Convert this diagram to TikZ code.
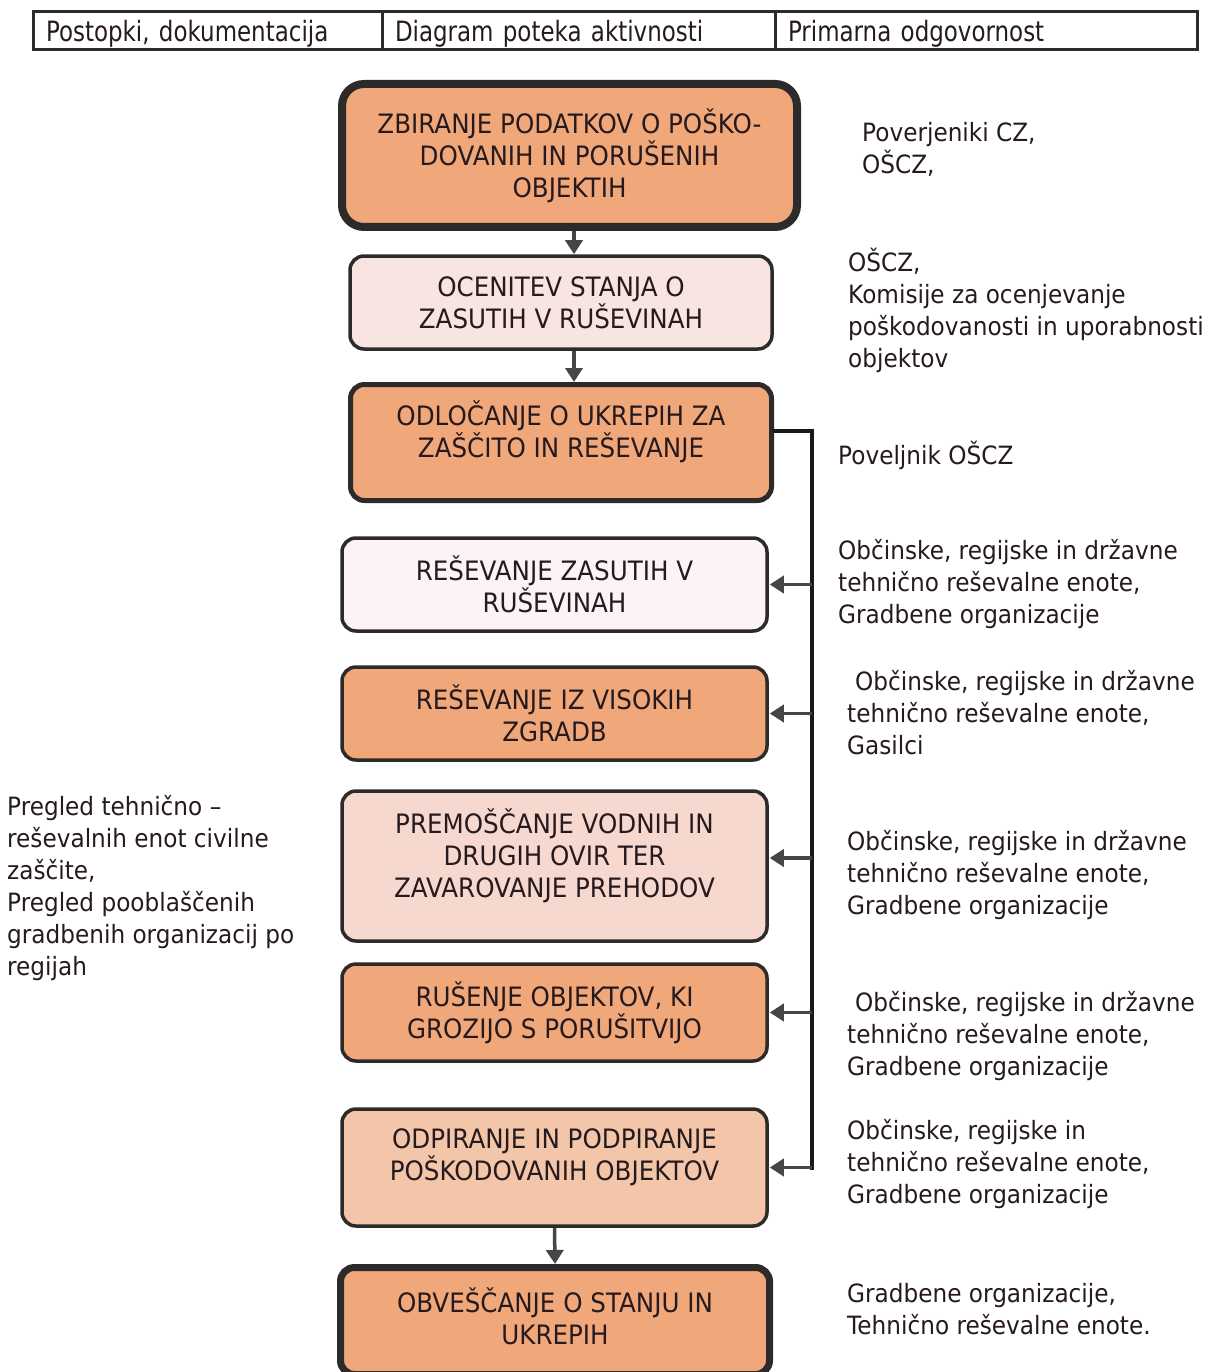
\documentclass[tikz,border=0pt]{standalone}
\usepackage{fontspec}
\setmainfont{DejaVu Sans}[FakeStretch=0.92]
\newfontfamily\hdrfont{DejaVu Sans}[FakeStretch=0.82]
\usetikzlibrary{arrows.meta,calc}
\definecolor{txt}{RGB}{38,26,30}
\definecolor{bord}{RGB}{45,42,42}
\definecolor{orng}{RGB}{240,168,122}
\definecolor{pinkA}{RGB}{248,228,224}
\definecolor{pinkB}{RGB}{251,243,245}
\definecolor{pinkC}{RGB}{246,216,206}
\definecolor{peach}{RGB}{243,198,170}
\definecolor{arrg}{RGB}{70,70,70}
\begin{document}
\begin{tikzpicture}[x=1pt,y=-1pt,
  box/.style={draw=bord, rounded corners=14pt, line width=3.5pt, align=center, text=txt,
    font=\fontsize{26.7}{32}\selectfont, inner sep=0pt},
  btxt/.style={align=center, text=txt, font=\fontsize{26.7}{32}\selectfont, inner sep=0pt},
  rtxt/.style={align=left, anchor=west, text=txt, font=\fontsize{25.2}{32}\selectfont, inner sep=0pt},
  hcell/.style={draw=bord, line width=3pt, minimum height=38pt, inner xsep=13pt, inner ysep=0pt,
    text height=28pt, text depth=6pt,
    align=left, text=txt, font=\hdrfont\fontsize{28}{30}\selectfont},
  arr/.style={draw=arrg, line width=3.5pt, -{Triangle[length=14pt,width=17pt]}},
  busline/.style={draw=black!90, line width=4pt, line cap=rect}]
\useasboundingbox (0,0) rectangle (1208,1372);
\fill[white] (0,0) rectangle (1208,1372);

% header
\node[hcell, text width=323pt] (h1) at (207.5,31) {Postopki, dokumentacija};
\node[hcell, text width=367pt] (h2) at (578.5,31) {Diagram poteka aktivnosti};
\node[hcell, text width=396pt] (h3) at (986,31) {Primarna odgovornost};

% boxes
\node[box, fill=orng, line width=8pt, rounded corners=22pt, minimum width=455pt, minimum height=143pt] (b1) at (569.5,155.5)
  {ZBIRANJE PODATKOV O POŠKO-\\DOVANIH IN PORUŠENIH\\OBJEKTIH};
\node[box, fill=pinkA, minimum width=422pt, minimum height=93pt] (b2) at (561,302.5)
  {OCENITEV STANJA O\\ZASUTIH V RUŠEVINAH};
\node[box, fill=orng, line width=5pt, minimum width=421pt, minimum height=116pt] (b3) at (561,442.5) {};
\node[btxt] (t3) at (561,432) {ODLOČANJE O UKREPIH ZA\\ZAŠČITO IN REŠEVANJE};
\node[box, fill=pinkB, minimum width=425pt, minimum height=93pt] (b4) at (554.5,584.5)
  {REŠEVANJE ZASUTIH V\\RUŠEVINAH};
\node[box, fill=orng, minimum width=425pt, minimum height=93pt] (b5) at (554.5,713.5)
  {REŠEVANJE IZ VISOKIH\\ZGRADB};
\node[box, fill=pinkC, minimum width=425pt, minimum height=150pt] (b6) at (554.5,866) {};
\node[btxt] (t6) at (554.5,856) {PREMOŠČANJE VODNIH IN\\DRUGIH OVIR TER\\ZAVAROVANJE PREHODOV};
\node[box, fill=orng, minimum width=425pt, minimum height=97pt] (b7) at (554.5,1012.5)
  {RUŠENJE OBJEKTOV, KI\\GROZIJO S PORUŠITVIJO};
\node[box, fill=peach, minimum width=425pt, minimum height=117pt] (b8) at (554.5,1167.5) {};
\node[btxt] (t8) at (554.5,1157) {ODPIRANJE IN PODPIRANJE\\POŠKODOVANIH OBJEKTOV};
\node[box, fill=orng, line width=7pt, minimum width=429pt, minimum height=107pt] (b9) at (555,1321) {};
\node[btxt] (t9) at (555,1316) {OBVEŠČANJE O STANJU IN\\UKREPIH};

% connectors
\coordinate (ax1) at (574,0);
\draw[arr] (b1.south -| ax1) -- (b2.north -| ax1);
\draw[arr] (b2.south -| ax1) -- (b3.north -| ax1);
\draw[arr] (b8.south) -- (b9.north);
\coordinate (busx) at (812,0);
\draw[busline] ([yshift=12pt]b3.east) -| (busx |- b8.east);
\draw[arr, shorten >=1pt] (busx |- b4.east) -- (b4.east);
\draw[arr, shorten >=1pt] (busx |- b5.east) -- (b5.east);
\draw[arr, shorten >=1pt] ([yshift=8pt]busx |- b6.east) -- ([yshift=8pt]b6.east);
\draw[arr, shorten >=1pt] (busx |- b7.east) -- (b7.east);
\draw[arr, shorten >=1pt] (busx |- b8.east) -- (b8.east);

% right column
\node[rtxt] (r1) at (862,149) {Poverjeniki CZ,\\OŠCZ,};
\node[rtxt] (r2) at (848,310) {OŠCZ,\\Komisije za ocenjevanje\\poškodovanosti in uporabnosti\\objektov};
\node[rtxt] (r3) at (838,455) {Poveljnik OŠCZ};
\node[rtxt] (r4) at (838,584) {Občinske, regijske in državne\\tehnično reševalne enote,\\Gradbene organizacije};
\node[rtxt] (r5) at (847,713) {\hspace*{8pt}Občinske, regijske in državne\\tehnično reševalne enote,\\Gasilci};
\node[rtxt] (r6) at (847,875) {Občinske, regijske in državne\\tehnično reševalne enote,\\Gradbene organizacije};
\node[rtxt] (r7) at (847,1036) {\hspace*{8pt}Občinske, regijske in državne\\tehnično reševalne enote,\\Gradbene organizacije};
\node[rtxt] (r8) at (847,1164) {Občinske, regijske in\\tehnično reševalne enote,\\Gradbene organizacije};
\node[rtxt] (r9) at (847,1309) {Gradbene organizacije,\\Tehnično reševalne enote.};

% left column
\node[rtxt] (l1) at (7,888.5) {Pregled tehnično –\\reševalnih enot civilne\\zaščite,\\Pregled pooblaščenih\\gradbenih organizacij po\\regijah};
\end{tikzpicture}
\end{document}
